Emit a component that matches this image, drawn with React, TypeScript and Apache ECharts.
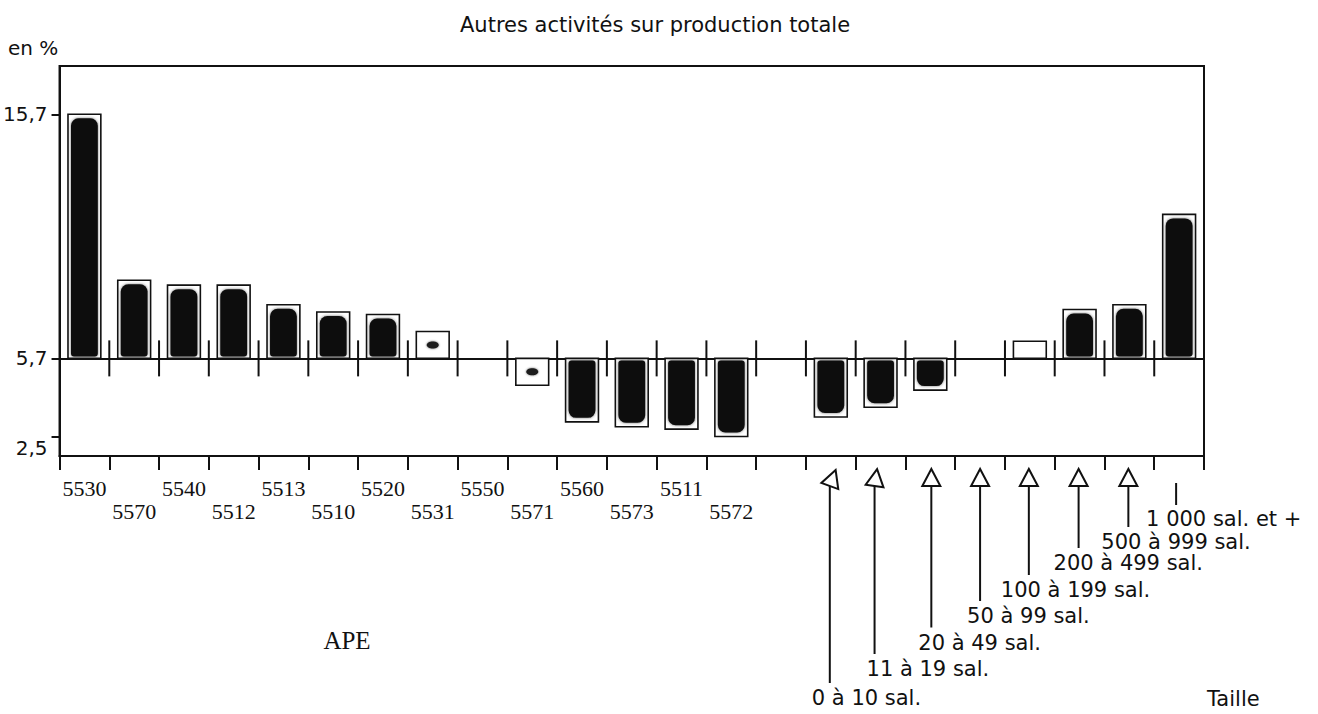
import React, { useEffect, useRef } from 'react';
import * as echarts from 'echarts';

// ---- Texts ----
const TITRE = 'Autres activités sur production totale';
const UNITE = 'en %';
const NOM_APE = 'APE';
const NOM_TAILLE = 'Taille';

// ---- Scale (en %) ----
const MOYENNE = 5.7;
const Y_MIN = 1.7;
const Y_MAX = 17.68;
const Y_REPERES = [2.5, 5.7, 15.7];

// ---- APE ----
const codesAPE = ['5530', '5570', '5540', '5512', '5513', '5510', '5520', '5531', '5550', '5571', '5560', '5573', '5511', '5572'];
const valeursAPE = [15.7, 8.9, 8.7, 8.7, 7.9, 7.6, 7.5, 6.8, 5.7, 4.6, 3.1, 2.9, 2.8, 2.5];

// ---- Taille ----
const tranchesTaille = ['0 à 10 sal.', '11 à 19 sal.', '20 à 49 sal.', '50 à 99 sal.', '100 à 199 sal.', '200 à 499 sal.', '500 à 999 sal.', '1 000 sal. et +'];
const valeursTaille = [3.3, 3.7, 4.4, 5.7, 6.4, 7.7, 7.9, 11.6];

const categories = [...codesAPE, '', ...tranchesTaille];
const debutTaille = codesAPE.length + 1;

export default function App() {
  const ref = useRef<HTMLDivElement>(null);

  useEffect(() => {
    const chart = echarts.init(ref.current as HTMLDivElement, null, { renderer: 'svg' });
    const INK = '#111';
    const SANS = '"DejaVu Sans", "Noto Sans", sans-serif';
    const SERIF = '"Liberation Serif", "DejaVu Serif", serif';

    const barData = [
      ...valeursAPE.map((v, i) => [i, v]),
      ...valeursTaille.map((v, k) => [debutTaille + k, v]),
    ];
    const separatorData = categories.map((_c, i) => [i, MOYENNE]).slice(1);
    const annotData = tranchesTaille.map((_t, k) => [debutTaille + k, Y_MIN]);

    // layout of the size annotations (pixels relative to the plot bottom / band centre)
    const LABEL_DY = [242, 213, 186.5, 160, 134, 107, 86, 62.5];
    const LABEL_DX = [-18, -8, -13, -13, -28, -25, -27, -30];
    const ARROW_DX = [-1, -6, 1, 0, -1, -1, -1, -3];
    const TILT = [-0.35, -0.15, 0, 0, 0, 0, 0, 0];

    const option: any = {
      animation: false,
      backgroundColor: '#fff',
      title: {
        text: TITRE,
        left: 455,
        top: 9,
        textStyle: { fontFamily: SANS, fontSize: 21, fontWeight: 'normal', color: INK },
      },
      grid: {
        left: 58,
        top: 66,
        width: 1146,
        height: 390,
        show: true,
        borderColor: INK,
        borderWidth: 2,
        backgroundColor: 'transparent',
      },
      xAxis: [
        {
          type: 'category',
          data: categories,
          position: 'bottom',
          axisLine: { onZero: false, lineStyle: { color: INK, width: 2 } },
          axisTick: { show: true, interval: 0, length: 14, lineStyle: { color: INK, width: 2 } },
          axisLabel: {
            interval: 0,
            margin: 21,
            formatter: (val: string, idx: number) =>
              idx < codesAPE.length ? (idx % 2 === 0 ? `{r1|${val}}` : `{r2|${val}}`) : '',
            rich: {
              r1: { fontFamily: SERIF, fontSize: 22, color: INK },
              r2: { fontFamily: SERIF, fontSize: 22, color: INK, padding: [23, 0, 0, 0] },
            },
          },
          splitLine: { show: false },
        },
        {
          type: 'category',
          data: categories,
          position: 'bottom',
          axisLine: { show: true, onZero: true, onZeroAxisIndex: 1, lineStyle: { color: INK, width: 2 } },
          axisTick: { show: false },
          axisLabel: { show: false },
          splitLine: { show: false },
        },
      ],
      yAxis: [
        {
          type: 'value',
          min: Y_MIN,
          max: Y_MAX,
          axisLine: { show: true, onZero: false, lineStyle: { color: INK, width: 2 } },
          axisTick: { show: true, customValues: Y_REPERES, length: 8, lineStyle: { color: INK, width: 2 } },
          axisLabel: {
            customValues: Y_REPERES,
            margin: 12,
            color: INK,
            fontFamily: SANS,
            fontSize: 20,
            formatter: (v: number) => {
              const s = String(v).replace('.', ',');
              return v === 2.5 ? `{lo|${s}}` : s;
            },
            rich: {
              lo: { fontFamily: SANS, fontSize: 20, color: INK, padding: [24, 0, 0, 0] },
            },
          },
          splitLine: { show: false },
        },
        {
          type: 'value',
          min: Y_MIN - MOYENNE,
          max: Y_MAX - MOYENNE,
          show: false,
          splitLine: { show: false },
        },
      ],
      graphic: [
        {
          type: 'text',
          x: 8,
          y: 48,
          style: { text: UNITE, fontFamily: SANS, fontSize: 20, fill: INK, verticalAlign: 'middle' },
        },
        {
          type: 'text',
          x: 347,
          y: 640,
          style: { text: NOM_APE, fontFamily: SERIF, fontSize: 25, fill: INK, align: 'center', verticalAlign: 'middle' },
        },
        {
          type: 'text',
          x: 1207,
          y: 699,
          style: { text: NOM_TAILLE, fontFamily: SANS, fontSize: 21, fill: INK, verticalAlign: 'middle' },
        },
      ],
      series: [
        {
          type: 'custom',
          name: 'Repères',
          xAxisIndex: 0,
          yAxisIndex: 0,
          clip: false,
          silent: true,
          z: 3,
          data: separatorData,
          renderItem: (_params: any, api: any) => {
            const i = api.value(0) as number;
            const c = api.coord([i, MOYENNE]);
            const x = c[0] - api.size([1, 0])[0] / 2;
            return {
              type: 'line',
              shape: { x1: x, y1: c[1] - 18, x2: x, y2: c[1] + 18 },
              style: { stroke: INK, lineWidth: 2 },
            };
          },
        },
        {
          type: 'custom',
          name: 'Autres activités',
          xAxisIndex: 0,
          yAxisIndex: 0,
          clip: false,
          silent: true,
          z: 5,
          data: barData,
          renderItem: (_params: any, api: any) => {
            const i = api.value(0) as number;
            const v = api.value(1) as number;
            const b = api.coord([i, MOYENNE]);
            const e = api.coord([i, v]);
            const w = api.size([1, 0])[0] * 0.66;
            const ecart = Math.abs(v - MOYENNE);
            if (ecart < 0.05) return { type: 'group', children: [] };
            const up = v > MOYENNE;
            const y0 = Math.min(b[1], e[1]);
            const h = Math.abs(b[1] - e[1]);
            const children: any[] = [
              {
                type: 'rect',
                shape: { x: b[0] - w / 2, y: y0, width: w, height: h },
                style: { fill: '#fff', stroke: INK, lineWidth: 1.6 },
              },
            ];
            if (ecart >= 1.2) {
              const fw = w - 6;
              const fh = h - 6;
              const r = Math.min(fw * 0.28, fh / 2);
              children.push({
                type: 'rect',
                shape: {
                  x: b[0] - fw / 2,
                  y: up ? y0 + 4 : y0 + 2,
                  width: fw,
                  height: fh,
                  r: up ? [r, r, 3, 3] : [3, 3, r, r],
                },
                style: { fill: '#0c0c0c', shadowBlur: 3, shadowColor: 'rgba(0,0,0,0.55)' },
              });
            } else if (ecart >= 0.8) {
              children.push({
                type: 'ellipse',
                shape: { cx: b[0], cy: (b[1] + e[1]) / 2, rx: 6, ry: 3.5 },
                style: { fill: '#1a1a1a', shadowBlur: 2, shadowColor: 'rgba(0,0,0,0.6)' },
              });
            }
            return { type: 'group', children };
          },
        },
        {
          type: 'custom',
          name: 'Taille',
          xAxisIndex: 0,
          yAxisIndex: 0,
          clip: false,
          silent: true,
          data: annotData,
          renderItem: (params: any, api: any) => {
            const k = params.dataIndex as number;
            const i = api.value(0) as number;
            const p = api.coord([i, Y_MIN]);
            const x = p[0] + ARROW_DX[k];
            const yb = p[1];
            const ty = yb + LABEL_DY[k];
            const children: any[] = [];
            if (k < tranchesTaille.length - 1) {
              children.push({
                type: 'polygon',
                x,
                y: yb + 30,
                originX: 0,
                originY: 0,
                rotation: TILT[k],
                shape: { points: [[0, -17], [-9, 0], [9, 0]] },
                style: { fill: '#fff', stroke: INK, lineWidth: 2 },
              });
              children.push({
                type: 'line',
                shape: { x1: x, y1: yb + 30, x2: x, y2: ty - 15 },
                style: { stroke: INK, lineWidth: 2 },
              });
            } else {
              children.push({
                type: 'line',
                shape: { x1: x, y1: yb + 27, x2: x, y2: yb + 49 },
                style: { stroke: INK, lineWidth: 2 },
              });
            }
            children.push({
              type: 'text',
              style: {
                text: tranchesTaille[k],
                x: x + LABEL_DX[k],
                y: ty,
                align: 'left',
                verticalAlign: 'middle',
                fontFamily: SANS,
                fontSize: 21,
                fill: INK,
              },
            });
            return { type: 'group', children };
          },
        },
      ],
    };

    chart.setOption(option);
    return () => chart.dispose();
  }, []);

  return (
    <div
      ref={ref}
      style={{ position: 'absolute', left: 0, top: 0, width: 1318, height: 714, background: '#fff' }}
    />
  );
}
